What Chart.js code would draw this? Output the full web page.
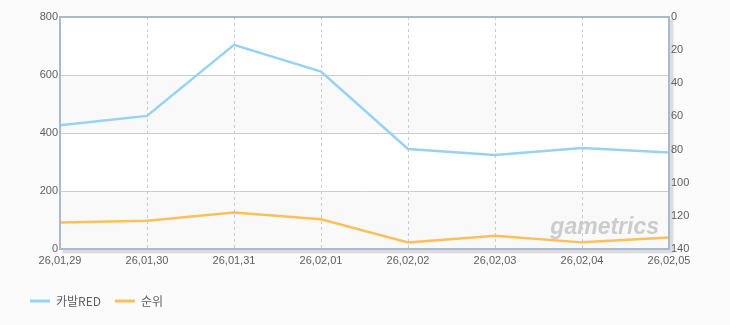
<!DOCTYPE html>
<html>
<head>
<meta charset="utf-8">
<script src="https://cdn.jsdelivr.net/npm/chart.js@4/dist/chart.umd.min.js"></script>
<style>
  html, body { margin: 0; padding: 0; background: #fbfbfb; }
  #wrap { width: 730px; height: 325px; position: relative; }
</style>
</head>
<body>
<div id="wrap"><canvas id="c" width="730" height="325"></canvas></div>
<script>
const categories = ['26,01,29', '26,01,30', '26,01,31', '26,02,01', '26,02,02', '26,02,03', '26,02,04', '26,02,05'];
const seriesNames = ['카발RED', '순위'];
const viewerValues = [427, 459, 704, 612, 345, 324, 348, 333];
const rankValues = [124, 123, 118, 122, 136, 132, 136, 133];
const leftTicks = [0, 200, 400, 600, 800];
const rightTicks = [0, 20, 40, 60, 80, 100, 120, 140];

const BLUE = '#96d3f3';
const ORANGE = '#fdbf5c';
const BORDER = '#a9b9ce';
const GRID = '#cccccc';
const TEXT = '#606060';

const decorPlugin = {
  id: 'decor',
  beforeDraw(chart) {
    const {ctx, chartArea: a} = chart;
    const y = chart.scales.y;
    ctx.save();
    ctx.fillStyle = '#fbfbfb';
    ctx.fillRect(0, 0, chart.width, chart.height);
    // shadow
    ctx.fillStyle = 'rgba(0,0,0,0.07)';
    ctx.fillRect(a.left + 3, a.top + 3, a.right - a.left + 1, a.bottom - a.top + 1);
    ctx.fillStyle = 'rgba(0,0,0,0.05)';
    ctx.fillRect(a.left + 2, a.top + 2, a.right - a.left + 3, a.bottom - a.top + 3);
    ctx.fillStyle = '#ffffff';
    ctx.fillRect(a.left, a.top, a.right - a.left, a.bottom - a.top);
    // alternating bands
    ctx.fillStyle = '#f9f9f9';
    for (let i = 0; i < leftTicks.length - 1; i++) {
      if (i % 2 === 0) {
        const y0 = y.getPixelForValue(leftTicks[i]);
        const y1 = y.getPixelForValue(leftTicks[i + 1]);
        ctx.fillRect(a.left, y1, a.right - a.left, y0 - y1);
      }
    }
    // watermark
    ctx.font = 'italic bold 23px "Liberation Sans", Arial, sans-serif';
    ctx.fillStyle = 'rgba(160,160,160,0.5)';
    ctx.textAlign = 'right';
    ctx.textBaseline = 'alphabetic';
    ctx.fillText('gametrics', a.right - 10, a.bottom - 15);
    ctx.restore();
  },
  afterDraw(chart) {
    const {ctx, chartArea: a} = chart;
    ctx.save();
    ctx.strokeStyle = BORDER;
    ctx.lineWidth = 2;
    ctx.strokeRect(a.left, a.top, a.right - a.left, a.bottom - a.top);
    ctx.restore();
  }
};

new Chart(document.getElementById('c'), {
  type: 'line',
  data: {
    labels: categories,
    datasets: [
      { label: seriesNames[0], data: viewerValues, yAxisID: 'y', borderColor: BLUE, backgroundColor: BLUE,
        borderWidth: 2.5, pointRadius: 0, tension: 0, fill: false },
      { label: seriesNames[1], data: rankValues, yAxisID: 'y1', borderColor: ORANGE, backgroundColor: ORANGE,
        borderWidth: 2.5, pointRadius: 0, tension: 0, fill: false }
    ]
  },
  options: {
    responsive: false,
    animation: false,
    devicePixelRatio: 1,
    layout: { padding: { left: 16, right: 0, top: 17, bottom: 8 } },
    plugins: {
      tooltip: { enabled: false },
      legend: {
        position: 'bottom',
        align: 'start',
        labels: {
          boxWidth: 20,
          boxHeight: 3,
          padding: 14,
          color: TEXT,
          font: { family: '"Noto Sans CJK KR", "Liberation Sans", sans-serif', size: 12 },
          generateLabels(chart) {
            return chart.data.datasets.map((ds, i) => ({
              text: ds.label, fillStyle: ds.borderColor, strokeStyle: ds.borderColor,
              lineWidth: 0, hidden: false, datasetIndex: i, fontColor: TEXT
            }));
          }
        }
      }
    },
    scales: {
      x: {
        type: 'category',
        offset: false,
        afterFit(s) { s.height = 32; },
        grid: { color: GRID, lineWidth: 1, drawTicks: false },
        border: { display: false, dash: [3, 3] },
        ticks: { color: TEXT, padding: 5, maxRotation: 0, autoSkip: false,
          font: { family: '"Liberation Sans", Arial, sans-serif', size: 11 } }
      },
      y: {
        position: 'left',
        min: 0, max: 800,
        afterFit(s) { s.width = 44; },
        afterBuildTicks(s) { s.ticks = leftTicks.map(v => ({ value: v })); },
        grid: { color: GRID, lineWidth: 1, drawTicks: false },
        border: { display: false },
        ticks: { color: TEXT, padding: 2,
          font: { family: '"Liberation Sans", Arial, sans-serif', size: 11 } }
      },
      y1: {
        position: 'right',
        reverse: true,
        min: 0, max: 140,
        afterFit(s) { s.width = 61; },
        afterBuildTicks(s) { s.ticks = rightTicks.map(v => ({ value: v })); },
        grid: { drawOnChartArea: false, drawTicks: false },
        border: { display: false },
        ticks: { color: TEXT, padding: 2,
          font: { family: '"Liberation Sans", Arial, sans-serif', size: 11 } }
      }
    }
  },
  plugins: [decorPlugin]
});
</script>
</body>
</html>
